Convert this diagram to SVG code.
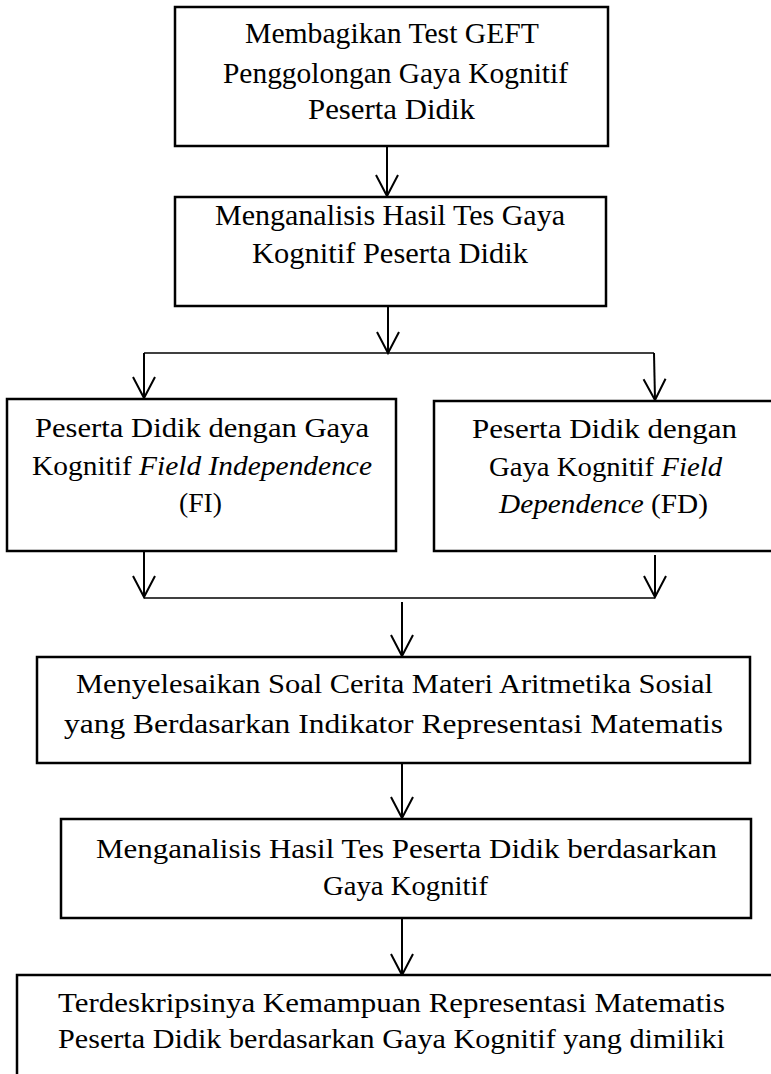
<svg xmlns="http://www.w3.org/2000/svg" width="771" height="1074" viewBox="0 0 771 1074">
<style>
.box{fill:#fff;stroke:#000;stroke-width:2.5}
.t{font-family:"Liberation Serif","Times New Roman",serif;fill:#000;text-anchor:middle}
.big{font-size:30px}
.sm{font-size:28px}
.i{font-style:italic}
.c{stroke:#000;stroke-width:2;fill:none}
.h{stroke:#000;stroke-width:1.6;fill:none}
</style>
<defs>
<marker id="ah" markerUnits="userSpaceOnUse" orient="auto" refX="0" refY="0" markerWidth="30" markerHeight="30" overflow="visible">
<path d="M-21,-11 L0,0 L-21,11" fill="none" stroke="#000" stroke-width="2"/>
</marker>
</defs>
<rect width="771" height="1074" fill="#fff"/>
<g id="connectors">
<line class="c" x1="387" y1="147" x2="387" y2="196" marker-end="url(#ah)"/>
<line class="c" x1="388" y1="307" x2="388" y2="353" marker-end="url(#ah)"/>
<line class="h" x1="144" y1="353" x2="654" y2="353"/>
<line class="c" x1="144" y1="353" x2="144" y2="398" marker-end="url(#ah)"/>
<line class="c" x1="654" y1="353" x2="655" y2="400" marker-end="url(#ah)"/>
<line class="c" x1="144" y1="552" x2="144" y2="597" marker-end="url(#ah)"/>
<line class="c" x1="655" y1="555" x2="655" y2="597" marker-end="url(#ah)"/>
<line class="h" x1="144" y1="598" x2="655" y2="598"/>
<line class="c" x1="402" y1="602" x2="402" y2="656" marker-end="url(#ah)"/>
<line class="c" x1="402" y1="764" x2="402" y2="818" marker-end="url(#ah)"/>
<line class="c" x1="402" y1="919" x2="402" y2="975" marker-end="url(#ah)"/>
</g>
<g id="n1">
<rect class="box" x="175" y="7" width="433" height="139"/>
<text class="t big" x="392" y="43" textLength="294" lengthAdjust="spacingAndGlyphs">Membagikan Test GEFT</text>
<text class="t big" x="395.5" y="83" textLength="345" lengthAdjust="spacingAndGlyphs">Penggolongan Gaya Kognitif</text>
<text class="t big" x="391.5" y="119" textLength="167" lengthAdjust="spacingAndGlyphs">Peserta Didik</text>
</g>
<g id="n2">
<rect class="box" x="175" y="197" width="431" height="109"/>
<text class="t big" x="390" y="225" textLength="350" lengthAdjust="spacingAndGlyphs">Menganalisis Hasil Tes Gaya</text>
<text class="t big" x="390" y="263" textLength="276" lengthAdjust="spacingAndGlyphs">Kognitif Peserta Didik</text>
</g>
<g id="n3">
<rect class="box" x="7" y="399" width="389" height="152"/>
<text class="t sm" x="202" y="437" textLength="334" lengthAdjust="spacingAndGlyphs">Peserta Didik dengan Gaya</text>
<text class="t sm" x="202" y="475" textLength="340" lengthAdjust="spacingAndGlyphs">Kognitif <tspan class="i">Field Independence</tspan></text>
<text class="t sm" x="200.5" y="512" textLength="43" lengthAdjust="spacingAndGlyphs">(FI)</text>
</g>
<g id="n4">
<rect class="box" x="434" y="401" width="345" height="150"/>
<text class="t sm" x="604.5" y="438" textLength="265" lengthAdjust="spacingAndGlyphs">Peserta Didik dengan</text>
<text class="t sm" x="605.5" y="476" textLength="233" lengthAdjust="spacingAndGlyphs">Gaya Kognitif <tspan class="i">Field</tspan></text>
<text class="t sm" x="603.5" y="513" textLength="209" lengthAdjust="spacingAndGlyphs"><tspan class="i">Dependence</tspan> (FD)</text>
</g>
<g id="n5">
<rect class="box" x="37" y="657" width="713" height="106"/>
<text class="t sm" x="394.5" y="693" textLength="637" lengthAdjust="spacingAndGlyphs">Menyelesaikan Soal Cerita Materi Aritmetika Sosial</text>
<text class="t sm" x="393.5" y="733" textLength="659" lengthAdjust="spacingAndGlyphs">yang Berdasarkan Indikator Representasi Matematis</text>
</g>
<g id="n6">
<rect class="box" x="61" y="819" width="690" height="99"/>
<text class="t sm" x="406.5" y="858" textLength="621" lengthAdjust="spacingAndGlyphs">Menganalisis Hasil Tes Peserta Didik berdasarkan</text>
<text class="t sm" x="405.5" y="895" textLength="165" lengthAdjust="spacingAndGlyphs">Gaya Kognitif</text>
</g>
<g id="n7">
<rect class="box" x="17" y="975" width="770" height="130"/>
<text class="t sm" x="391.5" y="1012" textLength="667" lengthAdjust="spacingAndGlyphs">Terdeskripsinya Kemampuan Representasi Matematis</text>
<text class="t sm" x="391.5" y="1048" textLength="667" lengthAdjust="spacingAndGlyphs">Peserta Didik berdasarkan Gaya Kognitif yang dimiliki</text>
</g>
</svg>
